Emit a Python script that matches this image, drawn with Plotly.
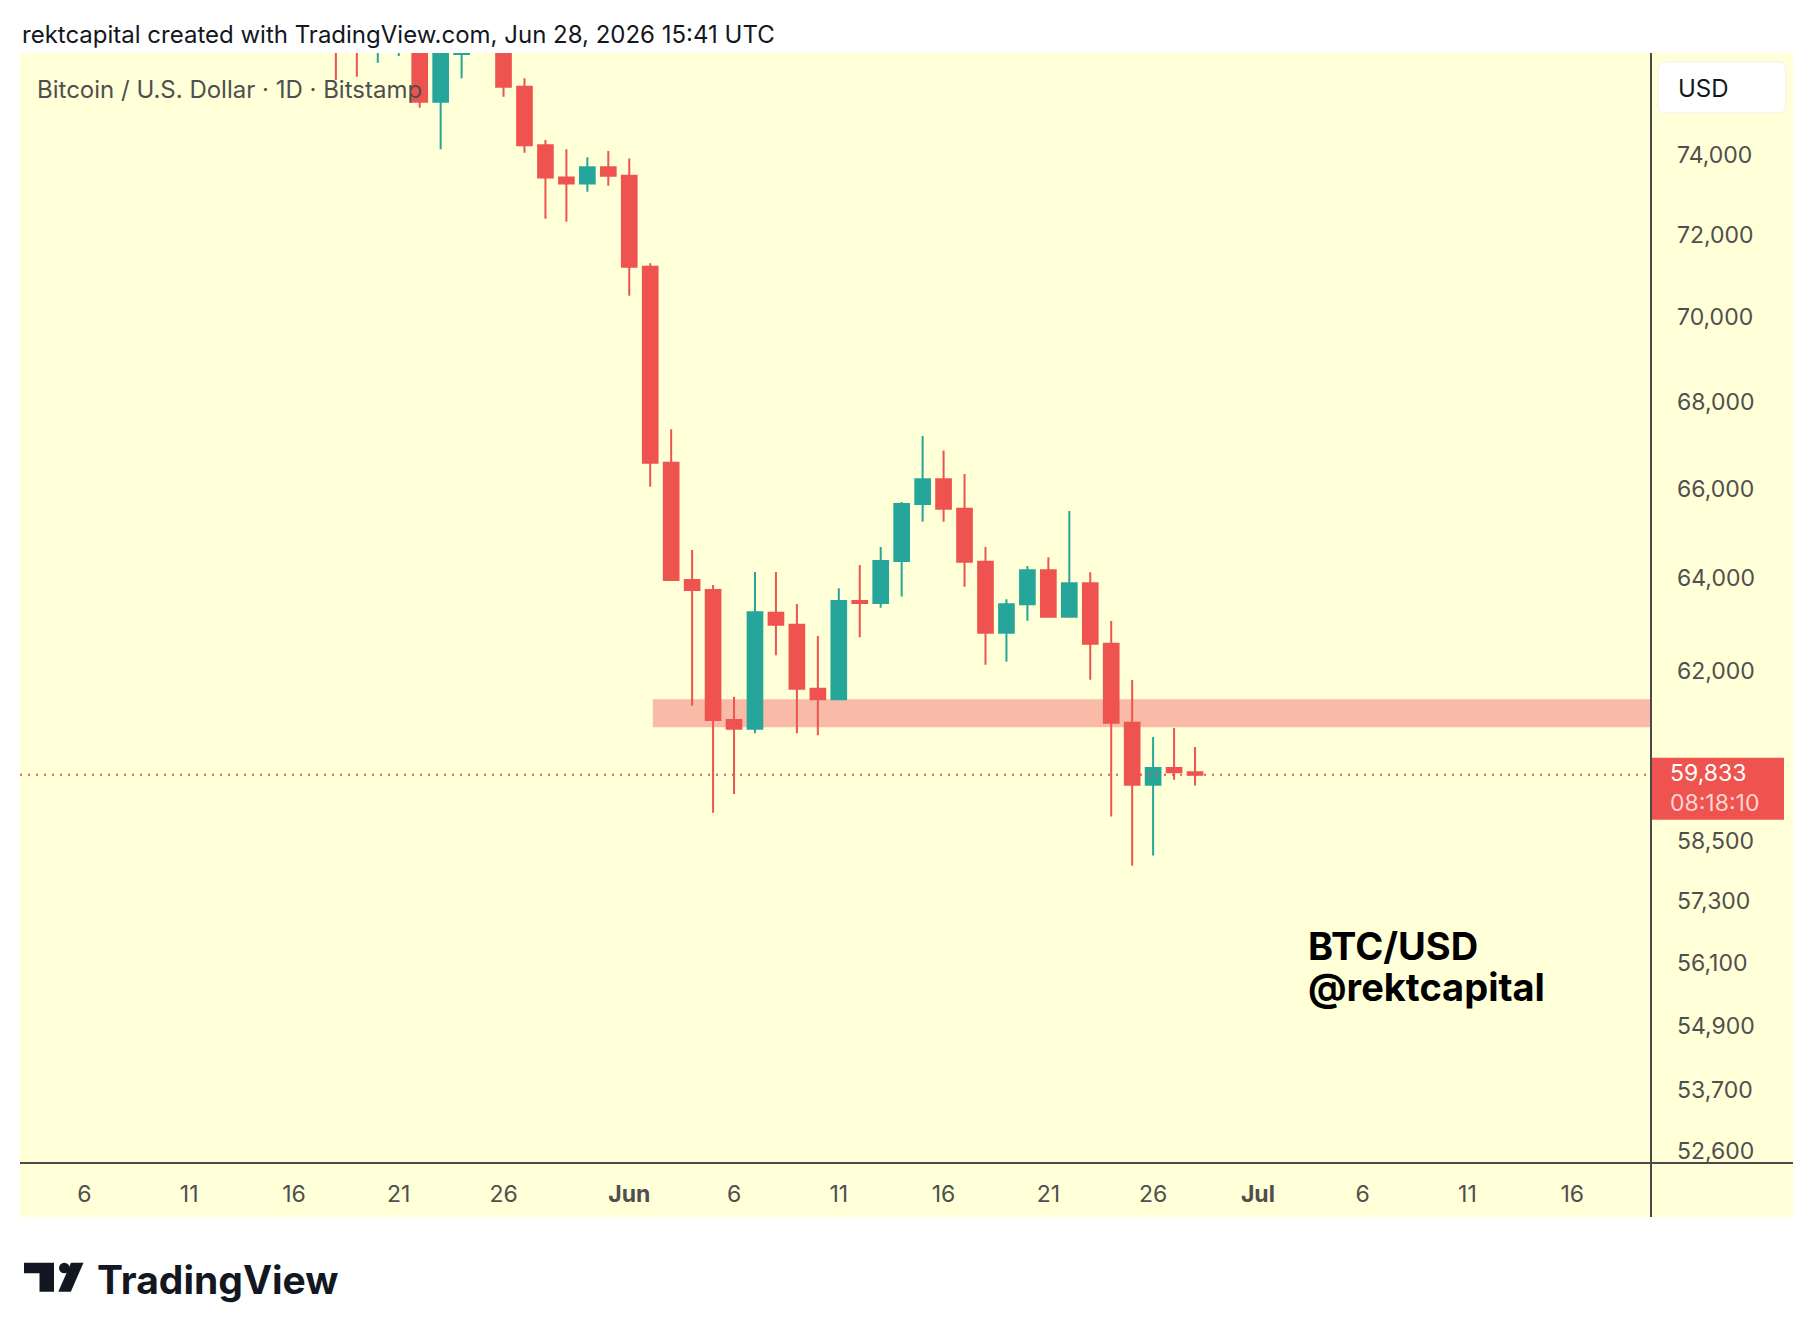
import math
import plotly.graph_objects as go

# ---------------- data ----------------
DATES = [
    "2026-05-18", "2026-05-19", "2026-05-20", "2026-05-21", "2026-05-22", "2026-05-23",
    "2026-05-24", "2026-05-25", "2026-05-26", "2026-05-27", "2026-05-28", "2026-05-29",
    "2026-05-30", "2026-05-31", "2026-06-01", "2026-06-02", "2026-06-03", "2026-06-04",
    "2026-06-05", "2026-06-06", "2026-06-07", "2026-06-08", "2026-06-09", "2026-06-10",
    "2026-06-11", "2026-06-12", "2026-06-13", "2026-06-14", "2026-06-15", "2026-06-16",
    "2026-06-17", "2026-06-18", "2026-06-19", "2026-06-20", "2026-06-21", "2026-06-22",
    "2026-06-23", "2026-06-24", "2026-06-25", "2026-06-26", "2026-06-27", "2026-06-28",
]
OPEN = [
    78100, 77600, 77000, 77300, 77800, 75359,
    76600, 77200, 77700, 75749, 74240, 73429,
    73278, 73683, 73470, 71216, 66587, 63965,
    63745, 60969, 60785, 63250, 62991, 61625,
    61401, 63505, 63460, 64383, 65653, 66210,
    65547, 64367, 62819, 63432, 64176, 63164,
    63892, 62583, 60911, 59630, 59974, 59883,
]
HIGH = [
    78600, 78000, 77900, 78200, 78300, 77000,
    77500, 78100, 77950, 75965, 74376, 74138,
    73935, 74096, 73908, 71300, 67354, 64626,
    63854, 61457, 64140, 64140, 63440, 62749,
    63783, 64293, 64692, 65700, 67199, 66870,
    66331, 64692, 63543, 64273, 64464, 65495,
    64133, 63071, 61809, 60614, 60800, 60406,
]
LOW = [
    75923, 76008, 76373, 76550, 75204, 74138,
    75965, 76850, 75488, 74053, 72397, 72322,
    73069, 73220, 70511, 66043, 63940, 61267,
    59060, 59441, 60689, 62335, 60689, 60648,
    61380, 62720, 63359, 63601, 65256, 65256,
    63818, 62135, 62199, 63079, 63150, 63150,
    61816, 58981, 57998, 58198, 59732, 59611,
]
CLOSE = [
    77600, 77000, 77300, 77800, 75359, 76700,
    77200, 77700, 75749, 74240, 73429, 73278,
    73683, 73470, 71216, 66587, 63965, 63745,
    60969, 60785, 63260, 62991, 61625, 61401,
    63505, 63460, 64383, 65653, 66210, 65547,
    64367, 62819, 63432, 64176, 63164, 63892,
    62583, 60911, 59630, 59974, 59883, 59833,
]

Y_TICKS = [52600, 53700, 54900, 56100, 57300, 58500, 60000,
           62000, 64000, 66000, 68000, 70000, 72000, 74000]
X_TICKS = ["2026-05-06", "2026-05-11", "2026-05-16", "2026-05-21", "2026-05-26",
           "2026-06-01", "2026-06-06", "2026-06-11", "2026-06-16", "2026-06-21",
           "2026-06-26", "2026-07-01", "2026-07-06", "2026-07-11", "2026-07-16"]
X_TICK_TEXT = ["6", "11", "16", "21", "26", "<b>Jun</b>", "6", "11", "16", "21",
               "26", "<b>Jul</b>", "6", "11", "16"]

X_RANGE = ["2026-05-02 22:12", "2026-07-19 18:14"]
Y_RANGE = [52378, 76628]

ZONE_START = "2026-06-02 03:00"
ZONE_LOW = 60815
ZONE_HIGH = 61400
LAST_PRICE = 59833
COUNTDOWN = "08:18:10"

HEADER = "rektcapital created with TradingView.com, Jun 28, 2026 15:41 UTC"
LEGEND = "Bitcoin / U.S. Dollar · 1D · Bitstamp"
TAG1 = "BTC/USD"
TAG2 = "@rektcapital"

# ---------------- styling / layout geometry ----------------
W, H = 1814, 1338
L, R, T, B = 20, 1651, 53, 1163
UP, DOWN = "#26A69A", "#EF5350"
BG = "#FFFFD8"
AXIS = "#4a4a4a"
TXT = "#4f4f4f"
FONT = "Inter"

# pixels per log10 unit on the price scale (used to size the price label box)
PX_PER_DEC = (B - T) / (math.log10(Y_RANGE[1]) - math.log10(Y_RANGE[0]))


def px(x):
    return (x - L) / (R - L)


def py(y):
    return (B - y) / (B - T)


def price_offset(price, pixels_up):
    return price * 10 ** (pixels_up / PX_PER_DEC)


def rrect_path(x0, y0, x1, y1, r):
    pts = [
        ("M", [(x0 + r, y0)]), ("L", [(x1 - r, y0)]), ("Q", [(x1, y0), (x1, y0 + r)]),
        ("L", [(x1, y1 - r)]), ("Q", [(x1, y1), (x1 - r, y1)]), ("L", [(x0 + r, y1)]),
        ("Q", [(x0, y1), (x0, y1 - r)]), ("L", [(x0, y0 + r)]), ("Q", [(x0, y0), (x0 + r, y0)]),
    ]
    s = ""
    for cmd, ps in pts:
        s += cmd + " " + " ".join(f"{px(a):.5f},{py(b):.5f}" for a, b in ps) + " "
    return s + "Z"


def poly_path(points):
    s = "M " + " L ".join(f"{px(a):.5f},{py(b):.5f}" for a, b in points)
    return s + " Z"


fig = go.Figure()
fig.add_trace(go.Candlestick(
    x=DATES, open=OPEN, high=HIGH, low=LOW, close=CLOSE,
    increasing=dict(line=dict(color=UP, width=2), fillcolor=UP),
    decreasing=dict(line=dict(color=DOWN, width=2), fillcolor=DOWN),
    whiskerwidth=0, showlegend=False, hoverinfo="skip",
))

shapes = [
    # yellow chart panel (plot + price scale + time scale)
    dict(type="rect", xref="paper", yref="paper", x0=px(20), x1=px(1793),
         y0=py(1217), y1=py(53), fillcolor=BG, line=dict(width=0), layer="below"),
    # support / resistance zone
    dict(type="rect", xref="x", yref="y", x0=ZONE_START, x1=X_RANGE[1],
         y0=ZONE_LOW, y1=ZONE_HIGH, fillcolor="#F9BBA7", line=dict(width=0), layer="below"),
    # last price dotted line
    dict(type="line", xref="paper", yref="y", x0=0, x1=1, y0=LAST_PRICE, y1=LAST_PRICE,
         line=dict(color=DOWN, width=2, dash="2px,6px")),
    # price scale separator
    dict(type="line", xref="paper", yref="paper", x0=1, x1=1, y0=py(1217), y1=1,
         line=dict(color=AXIS, width=2)),
    # time scale separator
    dict(type="line", xref="paper", yref="paper", x0=px(20), x1=px(1793), y0=0, y1=0,
         line=dict(color=AXIS, width=2)),
    # USD box
    dict(type="path", xref="paper", yref="paper", path=rrect_path(1658, 62, 1786, 113, 8),
         fillcolor="white", line=dict(color="#F3F3E2", width=1)),
    # last price label box
    dict(type="rect", xref="paper", yref="y", x0=px(1652), x1=px(1784),
         y0=price_offset(LAST_PRICE, -45), y1=price_offset(LAST_PRICE, 17),
         fillcolor=DOWN, line=dict(width=0)),
    # TradingView logo mark
    dict(type="path", xref="paper", yref="paper",
         path=poly_path([(24, 1262.7), (54, 1262.7), (54, 1291.7), (39.5, 1291.7),
                         (39.5, 1273.3), (24, 1273.3)]),
         fillcolor="#131722", line=dict(width=0)),
    dict(type="circle", xref="paper", yref="paper", x0=px(59), x1=px(69.6),
         y0=py(1273.3), y1=py(1262.7), fillcolor="#131722", line=dict(width=0)),
    dict(type="path", xref="paper", yref="paper",
         path=poly_path([(71, 1262.7), (83.5, 1262.7), (70.8, 1291.7), (58.3, 1291.7)]),
         fillcolor="#131722", line=dict(width=0)),
]

annotations = [
    dict(text=HEADER, xref="paper", yref="paper", x=px(20), y=py(35),
         xanchor="left", yanchor="middle", showarrow=False,
         font=dict(family=FONT, size=24, color="#131722")),
    dict(text=LEGEND, xref="paper", yref="paper", x=px(35), y=py(89),
         xanchor="left", yanchor="middle", showarrow=False,
         font=dict(family=FONT, size=24, color=TXT)),
    dict(text="USD", xref="paper", yref="paper", x=px(1676), y=py(88),
         xanchor="left", yanchor="middle", showarrow=False,
         font=dict(family=FONT, size=24, color="#131722")),
    dict(text=f"{LAST_PRICE:,}<br><span style='color:#FDD5D1'>{COUNTDOWN}</span>",
         xref="paper", yref="y", x=px(1668), y=math.log10(LAST_PRICE),
         xanchor="left", yanchor="middle", yshift=-13, align="left", showarrow=False,
         font=dict(family=FONT, size=23, color="white")),
    dict(text=f"<b>{TAG1}</b>", xref="paper", yref="paper", x=px(1306), y=py(946),
         xanchor="left", yanchor="middle", showarrow=False,
         font=dict(family=FONT, size=38, color="black")),
    dict(text=f"<b>{TAG2}</b>", xref="paper", yref="paper", x=px(1306), y=py(987),
         xanchor="left", yanchor="middle", showarrow=False,
         font=dict(family=FONT, size=38, color="black")),
    dict(text="<b>TradingView</b>", xref="paper", yref="paper", x=px(95), y=py(1279),
         xanchor="left", yanchor="middle", showarrow=False,
         font=dict(family=FONT, size=39, color="#131722")),
]

fig.update_layout(
    width=W, height=H,
    margin=dict(l=L, r=W - R, t=T, b=H - B, pad=0),
    paper_bgcolor="white", plot_bgcolor=BG,
    font=dict(family=FONT, color=TXT),
    showlegend=False, hovermode=False,
    boxgap=0.3, boxgroupgap=0,
    shapes=shapes, annotations=annotations,
    xaxis=dict(
        type="date", range=X_RANGE, rangeslider=dict(visible=False),
        tickvals=X_TICKS, ticktext=X_TICK_TEXT, ticks="", showgrid=False,
        zeroline=False, showline=False, automargin=False,
        tickfont=dict(family=FONT, size=23, color=TXT), ticklabelstandoff=15,
    ),
    yaxis=dict(
        type="log", range=[math.log10(Y_RANGE[0]), math.log10(Y_RANGE[1])],
        side="right", tickvals=Y_TICKS, ticktext=[f"{v:,}" for v in Y_TICKS],
        ticks="", showgrid=False, zeroline=False, showline=False, automargin=False,
        tickfont=dict(family=FONT, size=23, color=TXT), ticklabelstandoff=25,
    ),
)

fig.write_html("out.html")
